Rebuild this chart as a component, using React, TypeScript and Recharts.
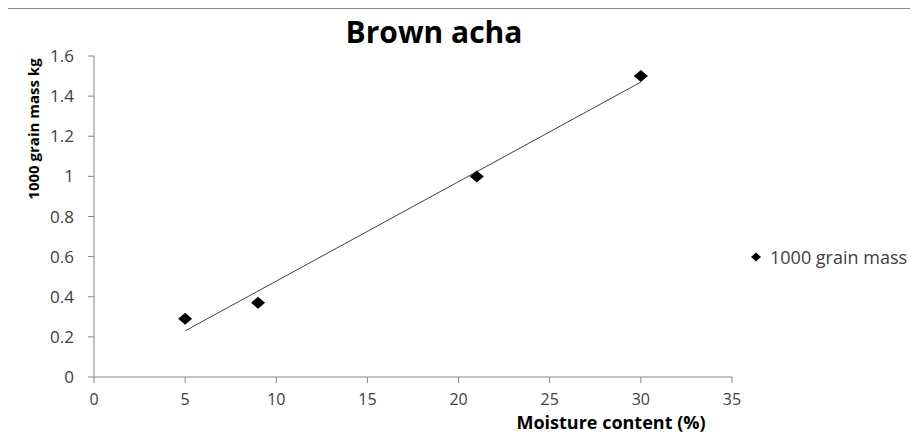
import React from "react";
import {
  ComposedChart,
  Scatter,
  Line,
  XAxis,
  YAxis,
  Legend,
} from "recharts";

// values
const moisture = [5, 9, 21, 30];
const grainMass = [0.29, 0.37, 1.0, 1.5];
const trendX = [5, 30];
const trendY = [0.23, 1.47];
const xTicks = [0, 5, 10, 15, 20, 25, 30, 35];
const yTicks = [0, 0.2, 0.4, 0.6, 0.8, 1, 1.2, 1.4, 1.6];

const points = moisture.map((m, i) => ({ x: m, y: grainMass[i] }));
const trend = trendX.map((m, i) => ({ x: m, y: trendY[i] }));

const font = "'Open Sans', 'Noto Sans', sans-serif";
const axisColor = "#868686";
const tickStyle = { fill: "#404040", fontSize: 17, fontFamily: font };
const xTickStyle = { ...tickStyle, fontSize: 16 };

const Diamond = (props: any) => {
  const { cx, cy } = props;
  if (cx == null || cy == null) return null;
  return (
    <polygon
      points={`${cx - 7},${cy} ${cx},${cy - 6} ${cx + 7},${cy} ${cx},${cy + 6}`}
      fill="#000"
    />
  );
};

const LegendBox = () => (
  <div style={{ display: "flex", alignItems: "center", height: 20, fontFamily: font }}>
    <svg width={14} height={12}>
      <polygon points="2,6 7,1.5 12,6 7,10.5" fill="#000" />
    </svg>
    <span style={{ marginLeft: 7, fontSize: 18, color: "#404040", whiteSpace: "nowrap" }}>
      1000 grain mass
    </span>
  </div>
);

const App = () => {
  return (
    <div
      style={{
        position: "relative",
        marginLeft: -1,
        width: 911,
        height: 436,
        borderTop: "1px solid #888",
        borderLeft: "1px solid #888",
        overflow: "hidden",
      }}
    >
      <div
        style={{
          position: "absolute",
          left: 426,
          top: 8,
          transform: "translateX(-50%)",
          fontFamily: font,
          fontWeight: 700,
          fontSize: 30,
          lineHeight: "30px",
          whiteSpace: "nowrap",
          color: "#000",
        }}
      >
        Brown acha
      </div>
      <div
        style={{
          position: "absolute",
          left: 25,
          top: 120,
          transform: "translate(-50%, -50%) rotate(-90deg)",
          fontFamily: font,
          fontWeight: 700,
          fontSize: 15,
          lineHeight: "15px",
          whiteSpace: "nowrap",
          color: "#000",
        }}
      >
        1000 grain mass kg
      </div>
      <div
        style={{
          position: "absolute",
          left: 603,
          top: 406,
          transform: "translateX(-50%)",
          fontFamily: font,
          fontWeight: 700,
          fontSize: 18,
          lineHeight: "14px",
          whiteSpace: "nowrap",
          color: "#000",
        }}
      >
        Moisture content (%)
      </div>
      <ComposedChart
        width={910}
        height={435}
        margin={{ top: 47, right: 186, left: 26, bottom: 37 }}
      >
        <XAxis
          type="number"
          dataKey="x"
          domain={[0, 35]}
          ticks={xTicks}
          interval={0}
          height={30}
          tick={xTickStyle}
          tickMargin={11}
          stroke={axisColor}
          allowDataOverflow
        />
        <YAxis
          type="number"
          dataKey="y"
          domain={[0, 1.6]}
          ticks={yTicks}
          interval={0}
          width={60}
          tick={tickStyle}
          tickMargin={14}
          stroke={axisColor}
          allowDataOverflow
        />
        <Legend
          layout="vertical"
          align="center"
          verticalAlign="middle"
          content={() => <LegendBox />}
          wrapperStyle={{ left: 741, top: 238, width: 170, height: 20 }}
        />
        <Line
          data={trend}
          dataKey="y"
          stroke="#404040"
          strokeWidth={1}
          dot={false}
          activeDot={false}
          legendType="none"
          isAnimationActive={false}
        />
        <Scatter
          name="1000 grain mass"
          data={points}
          dataKey="y"
          shape={Diamond}
          isAnimationActive={false}
        />
      </ComposedChart>
    </div>
  );
};

export default App;
